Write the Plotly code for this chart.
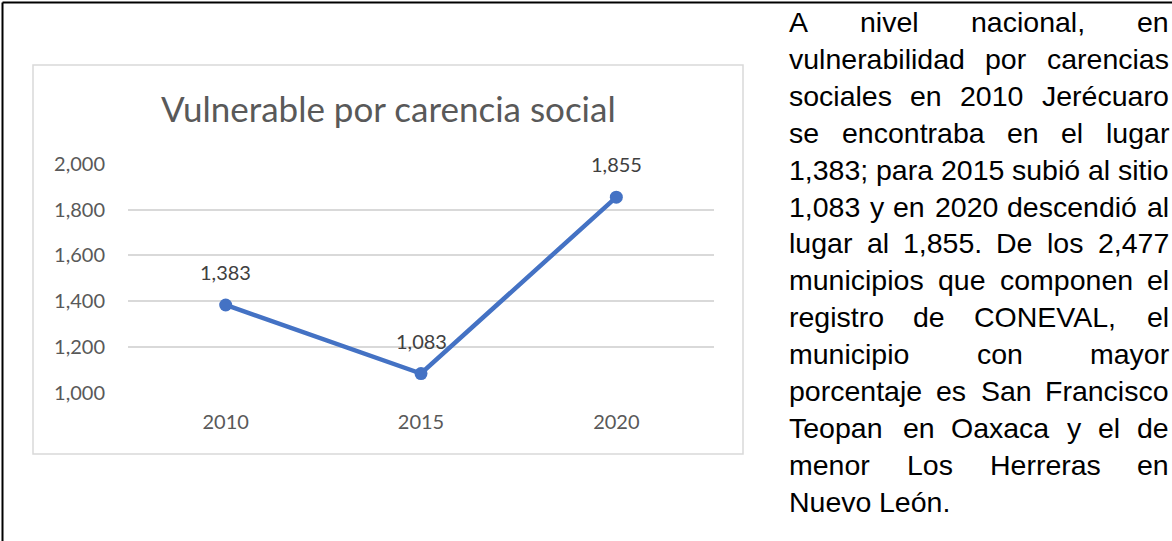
import plotly.graph_objects as go

# ---- data ----
years = ["2010", "2015", "2020"]
values = [1383, 1083, 1855]
value_labels = ["1,383", "1,083", "1,855"]
y_ticks = [1000, 1200, 1400, 1600, 1800, 2000]
title_text = "Vulnerable por carencia social"

paragraph_lines = [
    "A nivel nacional, en",
    "vulnerabilidad por carencias",
    "sociales en 2010 Jerécuaro",
    "se encontraba en el lugar",
    "1,383; para 2015 subió al sitio",
    "1,083 y en 2020 descendió al",
    "lugar al 1,855. De los 2,477",
    "municipios que componen el",
    "registro de CONEVAL, el",
    "municipio con mayor",
    "porcentaje es San Francisco",
    "Teopan en Oaxaca y el de",
    "menor Los Herreras en",
    "Nuevo León.",
]

W, H = 1172, 541

def px(x):
    return x / W

def py(y):
    return 1 - y / H

# Arial / Liberation Sans advance widths (per 1000 em)
ARIAL = {
    " ": 278, ",": 278, ";": 278, ".": 278,
    "0": 556, "1": 556, "2": 556, "3": 556, "4": 556, "5": 556, "6": 556, "7": 556, "8": 556, "9": 556,
    "a": 556, "b": 556, "c": 500, "d": 556, "e": 556, "f": 278, "g": 556, "h": 556, "i": 222, "j": 222,
    "k": 500, "l": 222, "m": 833, "n": 556, "o": 556, "p": 556, "q": 556, "r": 333, "s": 500, "t": 278,
    "u": 556, "v": 500, "w": 722, "x": 500, "y": 500, "z": 500, "é": 556, "ó": 556,
    "A": 667, "C": 722, "D": 722, "E": 667, "F": 611, "H": 722, "J": 500, "L": 556, "N": 722,
    "O": 778, "S": 667, "T": 611, "V": 667,
}

def text_width(s, size):
    return sum(ARIAL.get(c, 556) for c in s) * size / 1000.0

fig = go.Figure()

fig.add_trace(go.Scatter(
    x=years, y=values, mode="lines+markers",
    line=dict(color="#4472C4", width=4.5),
    marker=dict(color="#4472C4", size=13),
    hoverinfo="skip", showlegend=False,
))

annotations = []
for i, (v, lab) in enumerate(zip(values, value_labels)):
    annotations.append(dict(
        x=i, y=v, xref="x", yref="y", text=lab, showarrow=False,
        yshift=33, font=dict(family="Lato", size=20, color="#404040"),
        xanchor="center", yanchor="middle",
    ))

annotations.append(dict(
    x=px(388), y=py(108), xref="paper", yref="paper", text=title_text,
    showarrow=False, xanchor="center", yanchor="middle",
    font=dict(family="Lato", size=35, color="#595959"),
))

# justified paragraph on the right
fs = 28.5
left, right = 787, 1167
base0, step = 32, 36.9
for i, line in enumerate(paragraph_lines):
    words = line.split(" ")
    widths = [text_width(w, fs) for w in words]
    last = i == len(paragraph_lines) - 1
    if last or len(words) == 1:
        gap = text_width(" ", fs)
    else:
        gap = max((right - left - sum(widths)) / (len(words) - 1), text_width(" ", fs) * 0.8)
    xcur = left
    baseline = base0 + i * step
    for w, wd in zip(words, widths):
        annotations.append(dict(
            x=px(xcur), y=py(baseline - 10), xref="paper", yref="paper",
            text=w, showarrow=False, xanchor="left", yanchor="middle",
            font=dict(family="Liberation Sans, Arial", size=fs, color="#000000"),
        ))
        xcur += wd + gap

shapes = [
    # chart area border
    dict(type="rect", xref="paper", yref="paper",
         x0=px(33), x1=px(743), y0=py(454), y1=py(65),
         line=dict(color="#D9D9D9", width=1.5), fillcolor="rgba(0,0,0,0)", layer="below"),
    # outer frame: left and top
    dict(type="line", xref="paper", yref="paper", x0=px(2.5), x1=px(2.5), y0=py(2.5), y1=py(541),
         line=dict(color="#000000", width=2)),
    dict(type="line", xref="paper", yref="paper", x0=px(2.5), x1=px(1172), y0=py(2.5), y1=py(2.5),
         line=dict(color="#000000", width=2)),
]

fig.update_layout(
    width=W, height=H,
    margin=dict(l=0, r=0, t=0, b=0, pad=0, autoexpand=False),
    paper_bgcolor="white", plot_bgcolor="white",
    showlegend=False,
    annotations=annotations,
    shapes=shapes,
    xaxis=dict(
        domain=[px(128), px(714)], type="category", range=[-0.5, 2.5],
        showgrid=False, zeroline=False, showline=False, ticks="",
        tickfont=dict(family="Lato", size=20, color="#595959"),
        ticklabelstandoff=15, fixedrange=True, automargin=False,
    ),
    yaxis=dict(
        domain=[py(392.5), py(164)], range=[1000, 2000],
        tickvals=y_ticks, tickformat=",",
        showgrid=True, gridcolor="#D9D9D9", gridwidth=1.5,
        zeroline=False, showline=False, ticks="",
        tickfont=dict(family="Lato", size=20, color="#595959"),
        ticklabelstandoff=22, fixedrange=True, automargin=False,
    ),
)

fig.write_html("out.html", config={"displayModeBar": False},
               post_script="document.body.style.margin='0';document.body.style.overflow='hidden';")
